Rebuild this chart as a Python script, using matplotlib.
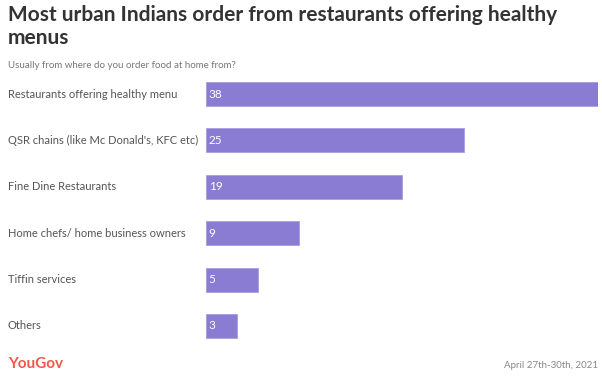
import matplotlib
matplotlib.use("Agg")
import matplotlib.pyplot as plt
from matplotlib.transforms import blended_transform_factory

categories = ["Restaurants offering healthy menu",
              "QSR chains (like Mc Donald's, KFC etc)",
              "Fine Dine Restaurants",
              "Home chefs/ home business owners",
              "Tiffin services",
              "Others"]
values = [38, 25, 19, 9, 5, 3]

title_lines = ["Most urban Indians order from restaurants offering healthy", "menus"]
subtitle = "Usually from where do you order food at home from?"
date_text = "April 27th-30th, 2021"

plt.rcParams['font.family'] = ['Lato', 'DejaVu Sans']

W, H = 602, 376
fig = plt.figure(figsize=(W / 100, H / 100), dpi=100)
ax = fig.add_axes([206 / W, 1 - 349.2 / H, 392 / W, 278.4 / H])

pos = list(range(len(categories)))
ax.barh(pos, values, height=0.52, color="#8a7bd3", edgecolor="#a99ee0", linewidth=0.6)
ax.set_xlim(0, 38)
ax.set_ylim(len(categories) - 0.5, -0.5)
ax.axis("off")

for p, v in zip(pos, values):
    ax.text(0.25, p, str(v), color="white", fontsize=8.5, va="center", ha="left")

tr = blended_transform_factory(fig.transFigure, ax.transData)
for p, c in zip(pos, categories):
    ax.text(8 / W, p, c, transform=tr, color="#555555", fontsize=8, va="center", ha="left")

for i, line in enumerate(title_lines):
    fig.text(8 / W, 1 - (21 + 23 * i) / H, line, fontsize=15, fontweight="bold",
             color="#333333", va="baseline", ha="left")
fig.text(8 / W, 1 - 65 / H, subtitle, fontsize=7, color="#777777", va="center", ha="left")
fig.text(8 / W, 1 - 364 / H, "YouGov", fontsize=11, fontweight="bold", color="#f0574a",
         va="center", ha="left")
fig.text(598 / W, 1 - 365 / H, date_text, fontsize=7, color="#888888", va="center", ha="right")

fig.savefig("out.png", dpi=100)
